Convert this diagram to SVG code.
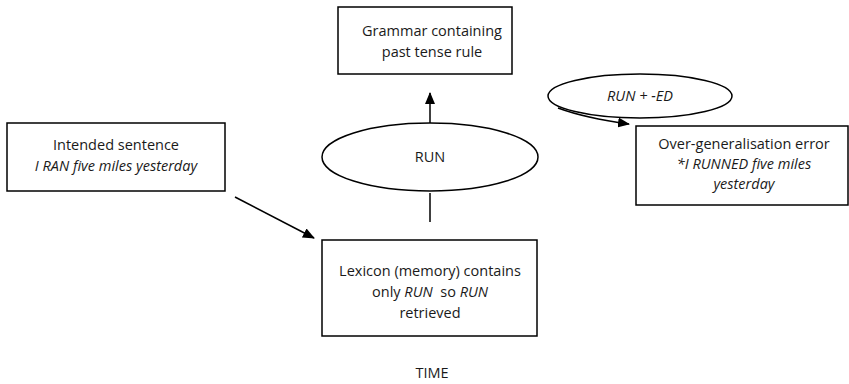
<svg xmlns="http://www.w3.org/2000/svg" width="849" height="384" viewBox="0 0 849 384">
  <style>
    .box { fill: #ffffff; stroke: #000000; stroke-width: 1.5; }
    .oval { fill: #ffffff; stroke: #000000; stroke-width: 1.5; }
    .line { fill: none; stroke: #000000; stroke-width: 1.5; }
    text { font-family: "Open Sans", "Noto Sans", "Liberation Sans", sans-serif; font-size: 14.5px; fill: #1a1a1a; text-anchor: middle; }
    .it { font-style: italic; }
  </style>
  <defs>
    <marker id="head" viewBox="0 0 12 10" refX="11" refY="5" markerWidth="12" markerHeight="10" markerUnits="userSpaceOnUse" orient="auto">
      <path d="M0,0 L12,5 L0,10 Z" fill="#000000"/>
    </marker>
  </defs>
  <rect width="849" height="384" fill="#ffffff"/>

  <g id="connectors">
    <line class="line" x1="430" y1="123" x2="430" y2="93" marker-end="url(#head)"/>
    <line class="line" x1="430" y1="193" x2="430" y2="222"/>
    <line class="line" x1="235" y1="197" x2="314" y2="238" marker-end="url(#head)"/>
    <path class="line" d="M558,108 Q585,118 629,124" marker-end="url(#head)"/>
  </g>

  <g id="grammar">
    <rect class="box" x="338" y="7" width="174" height="67"/>
    <text x="432" y="36">Grammar containing</text>
    <text x="432" y="57">past tense rule</text>
  </g>

  <g id="run-ed">
    <ellipse class="oval" cx="640" cy="96" rx="92" ry="22"/>
    <text class="it" x="640" y="101">RUN + -ED</text>
  </g>

  <g id="error">
    <rect class="box" x="636" y="126" width="212" height="79"/>
    <text x="744" y="149">Over-generalisation error</text>
    <text class="it" x="744" y="169">*I RUNNED five miles</text>
    <text class="it" x="744" y="189">yesterday</text>
  </g>

  <g id="intended">
    <rect class="box" x="7" y="123" width="218" height="68"/>
    <text x="116" y="150">Intended sentence</text>
    <text class="it" x="116" y="171">I RAN five miles yesterday</text>
  </g>

  <g id="run">
    <ellipse class="oval" cx="430" cy="157" rx="108" ry="34"/>
    <text x="430" y="162">RUN</text>
  </g>

  <g id="lexicon">
    <rect class="box" x="322" y="240" width="215" height="96"/>
    <text x="430" y="276">Lexicon (memory) contains</text>
    <text x="430" y="297" xml:space="preserve">only <tspan class="it">RUN</tspan>  so <tspan class="it">RUN</tspan></text>
    <text x="430" y="318">retrieved</text>
  </g>

  <g id="time">
    <text x="432" y="378">TIME</text>
  </g>
</svg>
